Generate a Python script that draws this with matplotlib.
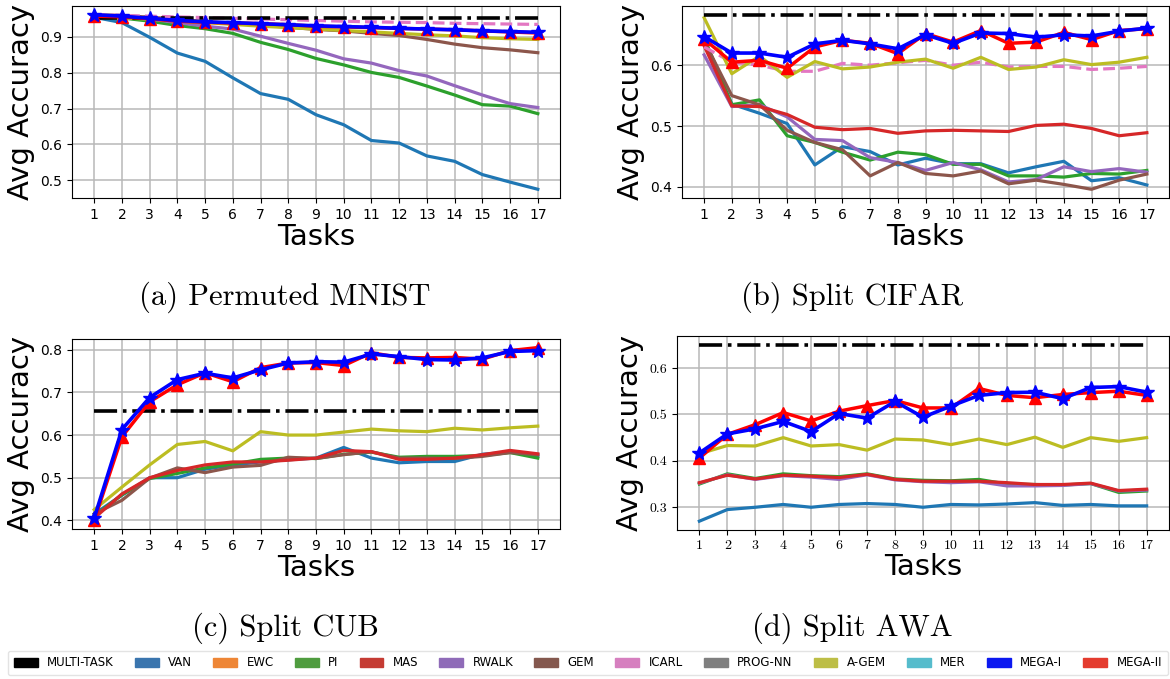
import matplotlib
matplotlib.use("Agg")
import matplotlib.pyplot as plt
from matplotlib.patches import Patch

tasks = list(range(1, 18))

# (a) Permuted MNIST
a_multi = 0.954
a_van = [0.955, 0.940, 0.899, 0.855, 0.832, 0.786, 0.742, 0.726, 0.683, 0.655, 0.611, 0.604, 0.568, 0.553, 0.516, 0.495, 0.475]
a_pi = [0.955, 0.953, 0.944, 0.932, 0.923, 0.910, 0.885, 0.865, 0.840, 0.822, 0.801, 0.787, 0.763, 0.738, 0.711, 0.707, 0.686]
a_rwalk = [0.960, 0.955, 0.950, 0.940, 0.930, 0.922, 0.902, 0.882, 0.863, 0.839, 0.827, 0.806, 0.791, 0.764, 0.738, 0.714, 0.703]
a_gem = [0.962, 0.960, 0.955, 0.950, 0.943, 0.937, 0.933, 0.927, 0.921, 0.917, 0.910, 0.904, 0.893, 0.880, 0.870, 0.864, 0.856]
a_agem = [0.955, 0.953, 0.950, 0.945, 0.940, 0.935, 0.930, 0.926, 0.922, 0.918, 0.914, 0.910, 0.906, 0.903, 0.898, 0.895, 0.893]
a_icarl = [0.962, 0.960, 0.958, 0.956, 0.954, 0.952, 0.950, 0.948, 0.946, 0.944, 0.942, 0.941, 0.940, 0.938, 0.937, 0.936, 0.935]
a_mega1 = [0.962, 0.958, 0.952, 0.946, 0.942, 0.940, 0.937, 0.934, 0.931, 0.929, 0.927, 0.924, 0.922, 0.920, 0.917, 0.915, 0.913]
a_mega2 = [0.958, 0.956, 0.951, 0.944, 0.941, 0.939, 0.937, 0.934, 0.930, 0.928, 0.926, 0.924, 0.922, 0.920, 0.917, 0.914, 0.911]

# (b) Split CIFAR
b_multi = 0.683
b_van = [0.640, 0.536, 0.521, 0.504, 0.436, 0.466, 0.458, 0.436, 0.447, 0.438, 0.438, 0.423, 0.433, 0.442, 0.410, 0.415, 0.403]
b_pi = [0.645, 0.535, 0.543, 0.484, 0.473, 0.457, 0.444, 0.457, 0.453, 0.437, 0.437, 0.418, 0.418, 0.416, 0.422, 0.421, 0.427]
b_mas = [0.632, 0.533, 0.532, 0.519, 0.498, 0.494, 0.496, 0.488, 0.492, 0.493, 0.492, 0.491, 0.501, 0.503, 0.496, 0.484, 0.489]
b_rwalk = [0.617, 0.532, 0.535, 0.515, 0.478, 0.476, 0.448, 0.440, 0.427, 0.440, 0.428, 0.408, 0.412, 0.433, 0.425, 0.430, 0.424]
b_gem = [0.640, 0.550, 0.535, 0.493, 0.473, 0.461, 0.418, 0.440, 0.422, 0.418, 0.426, 0.405, 0.411, 0.404, 0.396, 0.411, 0.421]
b_agem = [0.678, 0.586, 0.615, 0.580, 0.606, 0.594, 0.597, 0.605, 0.610, 0.595, 0.613, 0.593, 0.597, 0.609, 0.601, 0.605, 0.613]
b_icarl = [0.630, 0.605, 0.600, 0.590, 0.590, 0.603, 0.600, 0.604, 0.608, 0.600, 0.605, 0.597, 0.598, 0.598, 0.593, 0.595, 0.598]
b_mega1 = [0.647, 0.620, 0.620, 0.613, 0.635, 0.641, 0.635, 0.627, 0.650, 0.636, 0.653, 0.652, 0.646, 0.650, 0.648, 0.656, 0.661]
b_mega2 = [0.643, 0.605, 0.608, 0.595, 0.630, 0.641, 0.636, 0.619, 0.652, 0.638, 0.657, 0.636, 0.638, 0.654, 0.642, 0.657, 0.660]

# (c) Split CUB
c_multi = 0.657
c_van = [0.415, 0.459, 0.500, 0.500, 0.520, 0.530, 0.537, 0.542, 0.546, 0.571, 0.546, 0.535, 0.538, 0.538, 0.555, 0.560, 0.551]
c_pi = [0.410, 0.460, 0.498, 0.510, 0.523, 0.532, 0.543, 0.546, 0.545, 0.555, 0.560, 0.548, 0.550, 0.550, 0.552, 0.559, 0.546]
c_gem = [0.415, 0.447, 0.499, 0.523, 0.512, 0.525, 0.529, 0.548, 0.545, 0.554, 0.561, 0.546, 0.546, 0.545, 0.550, 0.559, 0.554]
c_mas = [0.405, 0.462, 0.500, 0.517, 0.530, 0.537, 0.537, 0.541, 0.546, 0.564, 0.561, 0.543, 0.543, 0.546, 0.554, 0.564, 0.556]
c_agem = [0.425, 0.478, 0.530, 0.578, 0.585, 0.563, 0.608, 0.600, 0.600, 0.607, 0.614, 0.610, 0.608, 0.616, 0.612, 0.617, 0.621]
c_mega1 = [0.405, 0.613, 0.688, 0.730, 0.745, 0.734, 0.753, 0.769, 0.772, 0.771, 0.790, 0.784, 0.777, 0.776, 0.781, 0.796, 0.798]
c_mega2 = [0.400, 0.596, 0.678, 0.718, 0.746, 0.725, 0.758, 0.769, 0.770, 0.763, 0.793, 0.782, 0.781, 0.782, 0.778, 0.798, 0.805]

# (d) Split AWA
d_multi = 0.650
d_van = [0.270, 0.295, 0.300, 0.306, 0.300, 0.306, 0.308, 0.306, 0.300, 0.306, 0.305, 0.307, 0.310, 0.304, 0.306, 0.303, 0.303]
d_pi = [0.350, 0.372, 0.362, 0.372, 0.368, 0.366, 0.372, 0.361, 0.358, 0.357, 0.360, 0.350, 0.349, 0.348, 0.351, 0.332, 0.335]
d_rwalk = [0.352, 0.370, 0.360, 0.368, 0.365, 0.360, 0.370, 0.359, 0.355, 0.353, 0.355, 0.346, 0.346, 0.347, 0.351, 0.335, 0.337]
d_mas = [0.353, 0.369, 0.361, 0.369, 0.367, 0.364, 0.371, 0.360, 0.356, 0.356, 0.356, 0.353, 0.349, 0.349, 0.352, 0.336, 0.339]
d_agem = [0.415, 0.433, 0.432, 0.450, 0.432, 0.435, 0.423, 0.447, 0.445, 0.435, 0.447, 0.435, 0.451, 0.429, 0.450, 0.442, 0.450]
d_mega1 = [0.417, 0.458, 0.469, 0.485, 0.463, 0.502, 0.492, 0.528, 0.494, 0.518, 0.541, 0.547, 0.548, 0.534, 0.558, 0.560, 0.548]
d_mega2 = [0.406, 0.457, 0.478, 0.504, 0.486, 0.507, 0.519, 0.530, 0.514, 0.514, 0.556, 0.541, 0.536, 0.543, 0.547, 0.550, 0.541]

captions = ["(a) Permuted MNIST", "(b) Split CIFAR", "(c) Split CUB", "(d) Split AWA"]

legend_names = ["MULTI-TASK", "VAN", "EWC", "PI", "MAS", "RWALK", "GEM",
                "ICARL", "PROG-NN", "A-GEM", "MER", "MEGA-I", "MEGA-II"]
legend_colors = ["#000000", "#3a75ae", "#ee8636", "#4f9c3f", "#c53b33", "#8f6bb8",
                 "#84584e", "#d67fbf", "#7f7f7f", "#bdbe46", "#56bccc", "#0b18f0", "#e43b2e"]

line_colors = {"VAN": "tab:blue", "PI": "tab:green", "MAS": "tab:red",
               "RWALK": "tab:purple", "GEM": "tab:brown", "ICARL": "tab:pink",
               "A-GEM": "tab:olive"}

W, H = 1170, 679
fig = plt.figure(figsize=(W / 100, H / 100), dpi=100)


def box(l, r, t, b):
    return [l / W, 1 - b / H, (r - l) / W, (b - t) / H]


panels = [
    dict(rect=box(72, 560, 6, 198), multi=a_multi,
         lines=[("VAN", a_van, "-"), ("PI", a_pi, "-"), ("RWALK", a_rwalk, "-"),
                ("GEM", a_gem, "-"), ("ICARL", a_icarl, "--"), ("A-GEM", a_agem, "-")],
         mega1=a_mega1, mega2=a_mega2, cap_xy=(285, 297), serif=False),
    dict(rect=box(682, 1169, 6, 198), multi=b_multi,
         lines=[("VAN", b_van, "-"), ("PI", b_pi, "-"), ("RWALK", b_rwalk, "-"),
                ("GEM", b_gem, "-"), ("MAS", b_mas, "-"), ("ICARL", b_icarl, "--"),
                ("A-GEM", b_agem, "-")],
         mega1=b_mega1, mega2=b_mega2, cap_xy=(852, 297), serif=False),
    dict(rect=box(72, 560, 339, 529), multi=c_multi,
         lines=[("VAN", c_van, "-"), ("PI", c_pi, "-"), ("GEM", c_gem, "-"),
                ("MAS", c_mas, "-"), ("A-GEM", c_agem, "-")],
         mega1=c_mega1, mega2=c_mega2, cap_xy=(285, 628), serif=False),
    dict(rect=box(677, 1169, 336, 530), multi=d_multi,
         lines=[("VAN", d_van, "-"), ("PI", d_pi, "-"), ("RWALK", d_rwalk, "-"),
                ("MAS", d_mas, "-"), ("A-GEM", d_agem, "-")],
         mega1=d_mega1, mega2=d_mega2, cap_xy=(852, 628), serif=True),
]

for p, caption in zip(panels, captions):
    ax = fig.add_axes(p["rect"])
    ax.set_axisbelow(True)
    ax.grid(True, color="#b8b8b8", linewidth=1.1)
    for name, vals, ls in p["lines"]:
        ax.plot(tasks, vals, ls, color=line_colors[name], linewidth=2.3)
    ax.plot(tasks, [p["multi"]] * len(tasks), "-.", color="black", linewidth=2.6)
    ax.plot(tasks, p["mega2"], "-^", color="red", linewidth=2.5, markersize=8)
    ax.plot(tasks, p["mega1"], "-*", color="blue", linewidth=2.6, markersize=10)
    ax.set_xticks(tasks)
    ax.set_xlabel("Tasks", fontsize=21, labelpad=1)
    ax.set_ylabel("Avg Accuracy", fontsize=21, labelpad=4)
    ax.tick_params(labelsize=10)
    for s in ax.spines.values():
        s.set_color("black")
    if p["serif"]:
        for lab in ax.get_xticklabels() + ax.get_yticklabels():
            lab.set_fontfamily("cmr10")
    cx, cy = p["cap_xy"]
    fig.text(cx / W, 1 - cy / H, caption, family="cmr10", fontsize=22,
             ha="center", va="center")

handles = [Patch(facecolor=c, edgecolor=c, label=n) for n, c in zip(legend_names, legend_colors)]
fig.legend(handles=handles, loc="center", bbox_to_anchor=(588 / W, 1 - 663 / H),
           ncol=13, fontsize=8.5, frameon=True, fancybox=True, edgecolor="#dddddd",
           handlelength=2.0, handleheight=0.8, handletextpad=0.8, columnspacing=1.8,
           borderpad=0.5)

fig.savefig("out.png", dpi=100)
